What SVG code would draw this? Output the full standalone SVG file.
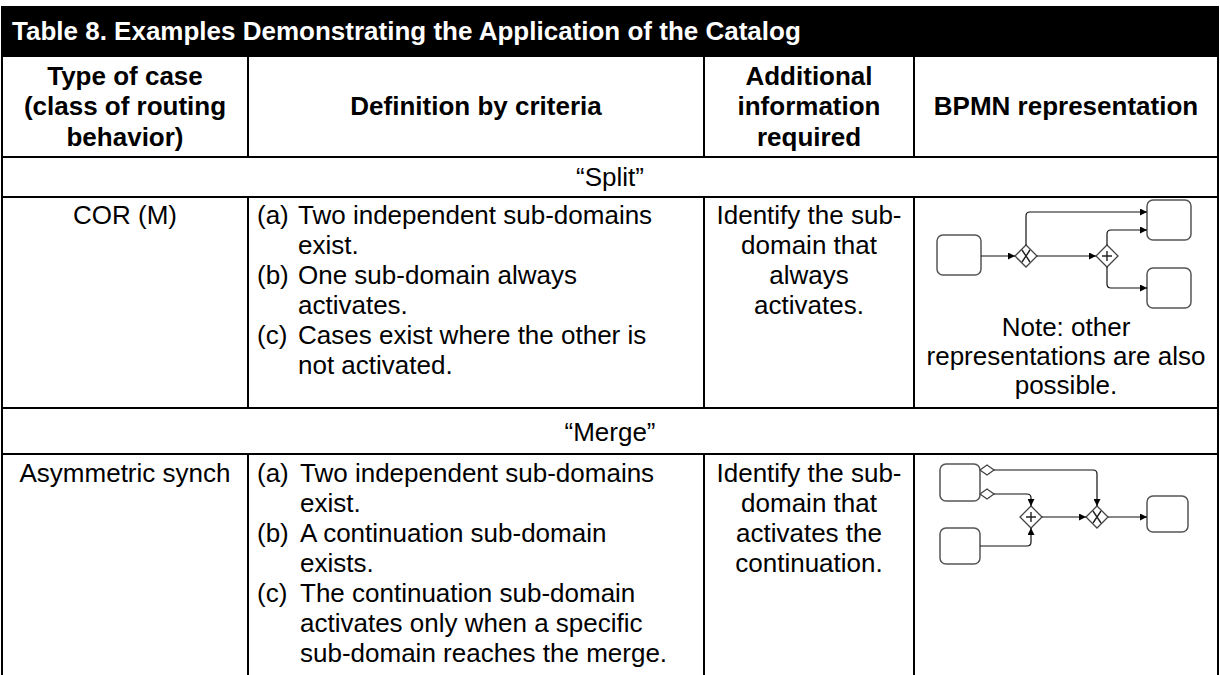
<svg xmlns="http://www.w3.org/2000/svg" width="1220" height="675" viewBox="0 0 1220 675">
<defs>
<style>
.t{font-family:"Liberation Sans",Arial,sans-serif;font-size:26px;fill:#000}
.b{font-weight:bold}
.c{text-anchor:middle}
.w{fill:#fff}
.rule{stroke:#000;stroke-width:2;fill:none}
.task{fill:#fff;stroke:#555;stroke-width:1.5}
.gw{fill:#fff;stroke:#444;stroke-width:1.3}
.mk{stroke:#222;stroke-width:1.4;fill:none}
.flow{fill:none;stroke:#111;stroke-width:1.2}
</style>
<marker id="arr" viewBox="0 0 10 10" refX="10" refY="5" markerWidth="8" markerHeight="7" markerUnits="userSpaceOnUse" orient="auto">
<path d="M0,0 L10,5 L0,10 Z" fill="#000"/>
</marker>
</defs>
<rect width="1220" height="675" fill="#fff"/>

<g id="title">
<rect x="2" y="6" width="1216" height="51" fill="#000"/>
<text class="t b w" x="12" y="40">Table 8. Examples Demonstrating the Application of the Catalog</text>
</g>

<g id="grid">
<path class="rule" d="M2,6 V675 M1218,6 V675 M2,157 H1218 M2,197 H1218 M2,408 H1218 M2,454 H1218 M248,57 V157 M704,57 V157 M914,57 V157 M248,197 V408 M704,197 V408 M914,197 V408 M248,454 V675 M704,454 V675 M914,454 V675"/>
</g>

<g id="header">
<text class="t b c" x="125" y="85">Type of case</text>
<text class="t b c" x="125" y="115">(class of routing</text>
<text class="t b c" x="125" y="146">behavior)</text>
<text class="t b c" x="476" y="115">Definition by criteria</text>
<text class="t b c" x="809" y="85">Additional</text>
<text class="t b c" x="809" y="115">information</text>
<text class="t b c" x="809" y="146">required</text>
<text class="t b c" x="1066" y="115">BPMN representation</text>
</g>

<g id="split-label"><text class="t c" x="610" y="186">“Split”</text></g>

<g id="row-cor">
<text class="t c" x="125" y="224">COR (M)</text>
<text class="t" x="257" y="224">(a)</text>
<text class="t" x="298" y="224">Two independent sub-domains</text>
<text class="t" x="298" y="254">exist.</text>
<text class="t" x="257" y="284">(b)</text>
<text class="t" x="298" y="284">One sub-domain always</text>
<text class="t" x="298" y="314">activates.</text>
<text class="t" x="257" y="344">(c)</text>
<text class="t" x="298" y="344">Cases exist where the other is</text>
<text class="t" x="298" y="374">not activated.</text>
<text class="t c" x="809" y="224">Identify the sub-</text>
<text class="t c" x="809" y="254">domain that</text>
<text class="t c" x="809" y="284">always</text>
<text class="t c" x="809" y="314">activates.</text>
<text class="t c" x="1066" y="336">Note: other</text>
<text class="t c" x="1066" y="365">representations are also</text>
<text class="t c" x="1066" y="394">possible.</text>
</g>

<g id="merge-label"><text class="t c" x="610" y="441">“Merge”</text></g>

<g id="row-asym">
<text class="t c" x="125" y="482">Asymmetric synch</text>
<text class="t" x="257" y="482">(a)</text>
<text class="t" x="300" y="482">Two independent sub-domains</text>
<text class="t" x="300" y="512">exist.</text>
<text class="t" x="257" y="542">(b)</text>
<text class="t" x="300" y="542">A continuation sub-domain</text>
<text class="t" x="300" y="572">exists.</text>
<text class="t" x="257" y="602">(c)</text>
<text class="t" x="300" y="602">The continuation sub-domain</text>
<text class="t" x="300" y="632">activates only when a specific</text>
<text class="t" x="300" y="662">sub-domain reaches the merge.</text>
<text class="t c" x="809" y="482">Identify the sub-</text>
<text class="t c" x="809" y="512">domain that</text>
<text class="t c" x="809" y="542">activates the</text>
<text class="t c" x="809" y="572">continuation.</text>
</g>

<g id="split-diagram">
<g id="s-start"><rect class="task" x="937" y="235" width="44" height="40" rx="6"/></g>
<g id="s-xor"><polygon class="gw" points="1026,245 1037,256 1026,267 1015,256"/><path class="mk" d="M1022,250 L1030,262 M1030,250 L1022,262"/></g>
<g id="s-and"><polygon class="gw" points="1107,245 1118,256 1107,267 1096,256"/><path class="mk" d="M1107,251 V261 M1102,256 H1112" stroke-width="1.8"/></g>
<g id="s-top"><rect class="task" x="1147" y="200" width="44" height="40" rx="6"/></g>
<g id="s-bottom"><rect class="task" x="1147" y="268" width="44" height="40" rx="6"/></g>
<g id="s-connectors">
<path class="flow" marker-end="url(#arr)" d="M981,256 H1015"/>
<path class="flow" marker-end="url(#arr)" d="M1026,245 V216 Q1026,212 1030,212 H1147"/>
<path class="flow" marker-end="url(#arr)" d="M1037,256 H1096"/>
<path class="flow" marker-end="url(#arr)" d="M1107,245 V234 Q1107,230 1111,230 H1147"/>
<path class="flow" marker-end="url(#arr)" d="M1107,267 V284 Q1107,288 1111,288 H1147"/>
</g>
</g>

<g id="merge-diagram">
<g id="m-a"><rect class="task" x="940" y="464" width="40" height="37" rx="6"/>
<polygon class="gw" points="980,470 987,465 994,470 987,475"/>
<polygon class="gw" points="980,494 987,489 994,494 987,499"/></g>
<g id="m-b"><rect class="task" x="940" y="528" width="40" height="36" rx="6"/></g>
<g id="m-and"><polygon class="gw" points="1031,506 1042,517 1031,528 1020,517"/><path class="mk" d="M1031,512 V522 M1026,517 H1036" stroke-width="1.8"/></g>
<g id="m-xor"><polygon class="gw" points="1097,506 1108,517 1097,528 1086,517"/><path class="mk" d="M1093,511 L1101,523 M1101,511 L1093,523"/></g>
<g id="m-end"><rect class="task" x="1147" y="496" width="41" height="36" rx="6"/></g>
<g id="m-connectors">
<path class="flow" marker-end="url(#arr)" d="M994,470 H1093 Q1097,470 1097,474 V506"/>
<path class="flow" marker-end="url(#arr)" d="M994,494 H1027 Q1031,494 1031,498 V506"/>
<path class="flow" marker-end="url(#arr)" d="M980,546 H1027 Q1031,546 1031,542 V528"/>
<path class="flow" marker-end="url(#arr)" d="M1042,517 H1086"/>
<path class="flow" marker-end="url(#arr)" d="M1108,517 H1147"/>
</g>
</g>
</svg>
